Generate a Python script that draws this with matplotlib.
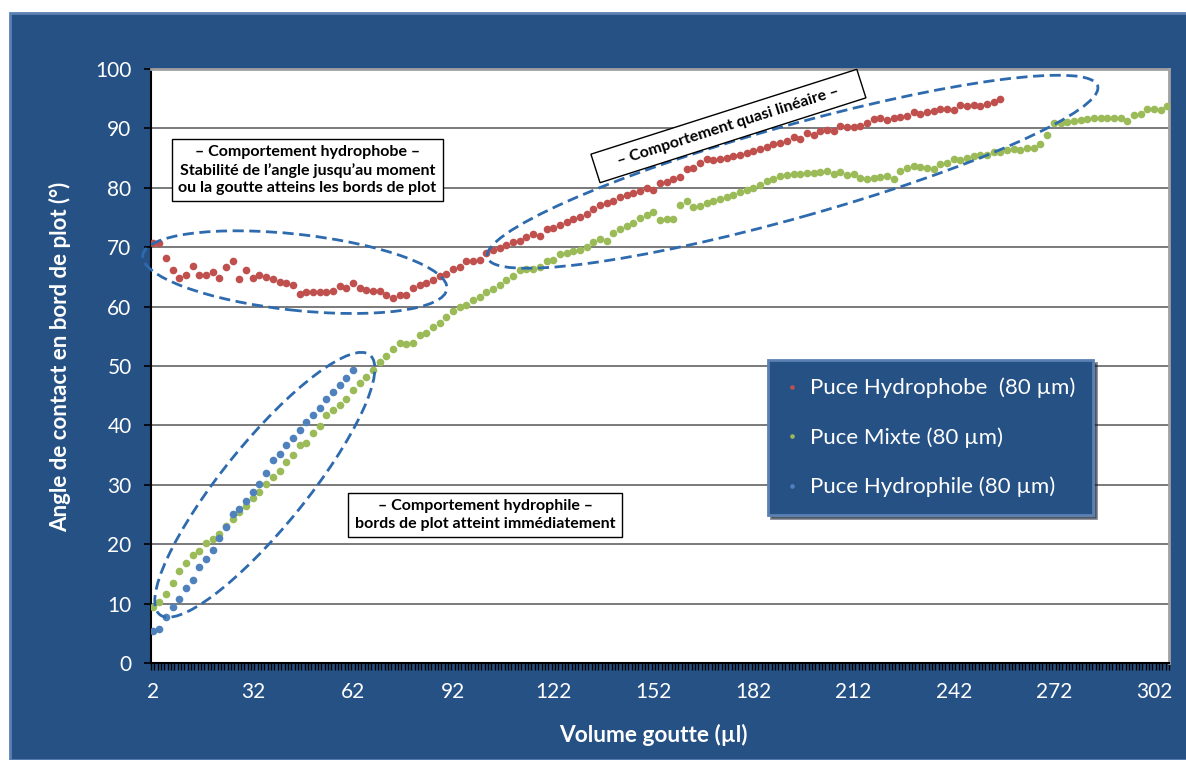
import numpy as np
import matplotlib.pyplot as plt
from matplotlib import patches, transforms

plt.rcParams['font.family'] = ['Lato', 'DejaVu Sans']

# categories (volume, µl) -- one point every 2 µl
volume_red = list(range(2, 257, 2))
volume_green = list(range(2, 307, 2))
volume_blue = list(range(2, 63, 2))

angle_red = [70.7, 70.7, 68.1, 66.2, 64.8, 65.4, 66.8, 65.4, 65.4, 65.9,
             64.8, 66.6, 67.6, 64.6, 66.2, 64.8, 65.3, 65.0, 64.6, 64.2,
             64.0, 63.6, 62.2, 62.4, 62.5, 62.5, 62.5, 62.7, 63.5, 63.2,
             63.9, 63.1, 62.8, 62.7, 62.7, 62.0, 61.5, 62.0, 62.0, 63.2,
             63.6, 64.0, 64.5, 65.2, 65.5, 66.3, 66.6, 67.6, 67.6, 67.8,
             69.0, 69.5, 69.8, 70.4, 70.9, 71.1, 71.8, 72.3, 71.9, 73.0,
             73.3, 73.8, 74.3, 74.7, 75.0, 75.6, 76.5, 77.1, 77.5, 77.7,
             78.5, 78.8, 79.1, 79.5, 79.9, 79.7, 80.8, 81.0, 81.4, 81.8,
             83.1, 83.4, 84.1, 84.8, 84.7, 84.8, 85.0, 85.3, 85.5, 85.9,
             86.2, 86.6, 86.9, 87.4, 87.6, 87.8, 88.6, 88.2, 89.3, 88.9,
             89.6, 89.8, 89.6, 90.4, 90.2, 90.3, 90.4, 90.9, 91.5, 91.7,
             91.4, 91.7, 92.0, 92.1, 92.8, 92.4, 92.8, 92.9, 93.2, 93.2,
             93.1, 93.9, 93.7, 93.9, 93.8, 94.1, 94.5, 94.9]

angle_green = [9.4, 10.3, 11.6, 13.5, 15.5, 16.9, 18.2, 18.9, 20.2, 20.8, 21.7, 23.0,
               24.2, 25.5, 26.4, 27.7, 28.8, 30.1, 31.3, 32.4, 33.9, 35.0, 36.7,
               37.0, 38.8, 39.9, 41.8, 42.6, 43.4, 44.4, 46.0, 47.1, 48.1, 49.3,
               50.6, 51.6, 52.8, 53.9, 53.7, 53.9, 55.2, 55.6, 56.6, 57.3, 58.2,
               59.3, 59.9, 60.3, 61.1, 61.7, 62.5, 62.9, 63.6, 64.4, 65.2, 66.1,
               66.4, 66.4, 66.7, 67.6, 67.9, 68.8,
               69.1, 69.4, 69.6, 70.1, 70.8, 71.3, 71.1, 72.4, 73.0, 73.6, 74.1,
               74.9, 75.4, 76.0, 74.5, 74.7, 74.7, 77.1, 77.8, 76.7, 76.9, 77.5,
               77.8, 78.1, 78.5, 78.8, 79.3, 79.7, 79.9, 80.5, 81.2,
               81.4, 82.0, 82.2, 82.3, 82.4, 82.5, 82.5, 82.7, 82.9, 82.3, 82.7,
               82.2, 82.4, 81.6, 81.4, 81.6, 81.8, 82.0, 81.4, 82.9, 83.3, 83.7,
               83.5, 83.3, 83.1, 84.0, 84.2, 84.8,
               84.6, 85.0, 85.4, 85.5, 85.5, 86.1, 86.1, 86.3, 86.5, 86.4, 86.7,
               86.7, 87.4, 88.9, 90.9, 90.9, 91.0, 91.2, 91.4, 91.5, 91.7, 91.7,
               91.7, 91.7, 91.7, 91.3, 92.3, 92.4, 93.2, 93.2, 93.1, 93.8]

angle_blue = [5.4, 5.8, 7.8, 9.4, 10.7, 12.6, 13.9, 16.1, 17.5, 19.0, 21.0,
              22.9, 25.1, 26.0, 27.3, 28.8, 30.1, 32.0, 34.1, 35.2, 36.7, 37.8,
              39.3, 40.6, 41.8, 43.0, 44.4, 45.6, 46.8, 47.9, 49.3]

labels = ['Puce Hydrophobe  (80 µm)', 'Puce Mixte (80 µm)', 'Puce Hydrophile (80 µm)']
colors = ['#C0504D', '#9BBB59', '#4F81BD']
xtick_vals = list(range(2, 303, 30))
ytick_vals = list(range(0, 101, 10))

BG = '#265185'
EDGE = '#5b80b2'
DASH = '#2E6AAE'

fig = plt.figure(figsize=(11.86, 7.6), dpi=100)
fig.patch.set_facecolor('white')
fig.add_artist(patches.Rectangle((10 / 1186, 0), 1.0, 1 - 13 / 760, transform=fig.transFigure,
                                 fc=BG, ec=EDGE, lw=2, zorder=0))

ax = fig.add_axes([151 / 1186, 1 - 663 / 760, 1018 / 1186, 594 / 760])
ax.set_facecolor('white')

for vol, ang, lab, col in zip([volume_red, volume_green, volume_blue],
                              [angle_red, angle_green, angle_blue], labels, colors):
    ax.plot(vol, ang, 'o', ms=5.5, color=col, mec='none', label=lab, zorder=3)


def dashed_ellipse(xc, yc, a_px, b_px, angle):
    tr = fig.dpi_scale_trans + transforms.ScaledTranslation(xc, yc, ax.transData)
    e = patches.Ellipse((0, 0), 2 * a_px / 100, 2 * b_px / 100, angle=angle, transform=tr,
                        fill=False, ec=DASH, lw=2, ls=(0, (4, 2)), zorder=4, clip_on=False)
    ax.add_patch(e)


dashed_ellipse(44.6, 65.8, 153, 38, -6.3)
dashed_ellipse(35.6, 30.0, 167, 42, 51)
dashed_ellipse(193.7, 82.7, 317, 46, 15.7)

box = dict(boxstyle='square,pad=0.4', fc='white', ec='black', lw=1)
ax.text(48.4, 83.0, '– Comportement hydrophobe –\nStabilité de l’angle jusqu’au moment\n'
        'ou la goutte atteins les bords de plot', ha='center', va='center', fontsize=11.5,
        fontweight='bold', linespacing=1.3, bbox=box, zorder=5)
ax.text(101.6, 24.9, '– Comportement hydrophile –\nbords de plot atteint immédiatement',
        ha='center', va='center', fontsize=11.5, fontweight='bold', linespacing=1.3,
        bbox=box, zorder=5)
ax.text(174.5, 90.4, '    – Comportement quasi linéaire –    ', rotation=17.7,
        rotation_mode='anchor', ha='center', va='center', fontsize=11.5, fontweight='bold',
        bbox=dict(boxstyle='square,pad=0.5', fc='white', ec='black', lw=1), zorder=5)

ax.set_xlim(1.5, 306.5)
ax.set_ylim(0, 100)
ax.set_yticks(ytick_vals)
ax.set_xticks(xtick_vals)
ax.set_xticks(np.arange(1.5, 307, 1), minor=True)
ax.yaxis.grid(True, color='#7a7a7a', lw=1.4)
ax.set_axisbelow(True)

ax.tick_params(axis='y', colors='black', labelcolor='white', length=5, width=1.2,
               pad=9, labelsize=15)
ax.tick_params(axis='x', which='major', length=0, pad=14, labelcolor='white', labelsize=15)
ax.tick_params(axis='x', which='minor', length=5, width=1, color='black')

for s in ['left', 'bottom']:
    ax.spines[s].set_color('black')
    ax.spines[s].set_linewidth(1.5)
for s in ['top', 'right']:
    ax.spines[s].set_color('#a0a0a0')
    ax.spines[s].set_linewidth(2)

leg = ax.legend(loc='upper left', bbox_to_anchor=(0.606, 0.510), frameon=True,
                facecolor=BG, edgecolor=EDGE, framealpha=1, fancybox=False, shadow=True,
                fontsize=16, labelcolor='white', markerscale=0.6, handlelength=0.6,
                handletextpad=0.5, labelspacing=1.3, borderpad=0.8, borderaxespad=0)
leg.get_frame().set_linewidth(2)
leg.set_zorder(6)

fig.text(60 / 1186, 1 - 357 / 760, 'Angle de contact en bord de plot (°)', rotation=90,
         ha='center', va='center', color='white', fontsize=16, fontweight='bold')
fig.text(653 / 1186, 1 - 735 / 760, 'Volume goutte (µl)', ha='center', va='center',
         color='white', fontsize=16.3, fontweight='bold')

fig.savefig('out.png', dpi=100, facecolor=fig.get_facecolor())
